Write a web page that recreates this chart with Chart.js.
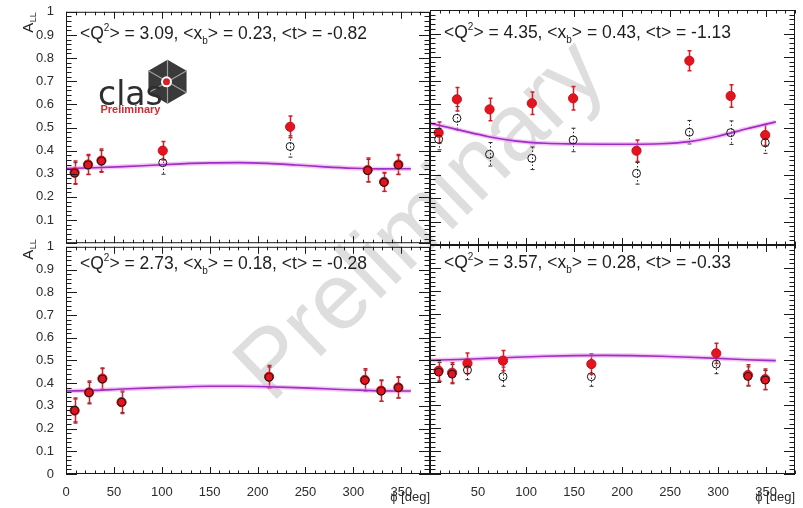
<!DOCTYPE html>
<html>
<head>
<meta charset="utf-8">
<script src="https://cdn.jsdelivr.net/npm/chart.js@4.4.1/dist/chart.umd.min.js"></script>
<style>
  body { margin: 0; background: #fff; }
  #page { position: relative; width: 803px; height: 508px; overflow: hidden; background: #fff; }
  #page canvas { position: absolute; }
  .watermark {
    position: absolute; left: 418px; top: 218px;
    transform: translate(-50%, -50%) rotate(-44deg);
    font: 94px "Liberation Sans", Arial, sans-serif;
    color: #dedede; white-space: nowrap; line-height: 1;
  }
</style>
</head>
<body>
<div id="page">
  <div class="watermark">Preliminary</div>
  <canvas id="tl" width="440" height="255" style="left:0;top:0"></canvas>
  <canvas id="tr" width="383" height="255" style="left:420px;top:0"></canvas>
  <canvas id="bl" width="440" height="273" style="left:0;top:235px"></canvas>
  <canvas id="br" width="383" height="273" style="left:420px;top:235px"></canvas>
</div>
<script>
const FONT = '"Liberation Sans", Arial, Helvetica, sans-serif';

// axis labels
const phiTicks = [0, 50, 100, 150, 200, 250, 300, 350];
const allTicks = [0, 0.1, 0.2, 0.3, 0.4, 0.5, 0.6, 0.7, 0.8, 0.9, 1];

// the fit curves are sampled on this phi grid
const fitPhi = [0, 30, 60, 90, 120, 150, 180, 210, 240, 270, 300, 330, 360];

// bin 1: <Q2> = 3.09, <xb> = 0.23, <t> = -0.82
const k1Kin = ["3.09", "0.23", "-0.82"];
const k1Phi = [9, 23, 37, 101, 234, 315, 332, 347];
const k1All = [0.305, 0.340, 0.357, 0.400, 0.503, 0.316, 0.265, 0.340];
const k1Err = [0.050, 0.043, 0.050, 0.040, 0.047, 0.052, 0.041, 0.043];
const k1Open = [0.303, 0.338, 0.355, 0.348, 0.418, 0.314, 0.263, 0.338];
const k1OpenErr = [0.045, 0.040, 0.045, 0.050, 0.046, 0.048, 0.040, 0.040];
const k1Fit = [0.323, 0.326, 0.331, 0.337, 0.343, 0.347, 0.348, 0.345, 0.338, 0.330, 0.324, 0.321, 0.322];

// bin 2: <Q2> = 4.35, <xb> = 0.43, <t> = -1.13
const k2Kin = ["4.35", "0.43", "-1.13"];
const k2Phi = [9, 28, 62, 106, 149, 215, 270, 313, 349];
const k2All = [0.478, 0.620, 0.577, 0.603, 0.624, 0.401, 0.784, 0.634, 0.468];
const k2Err = [0.045, 0.050, 0.048, 0.048, 0.050, 0.046, 0.043, 0.048, 0.045];
const k2Open = [0.450, 0.539, 0.386, 0.369, 0.447, 0.305, 0.480, 0.478, 0.435];
const k2OpenErr = [0.045, 0.050, 0.050, 0.048, 0.050, 0.046, 0.050, 0.050, 0.045];
const k2Fit = [0.518, 0.490, 0.462, 0.442, 0.433, 0.430, 0.429, 0.429, 0.431, 0.440, 0.463, 0.495, 0.524];

// bin 3: <Q2> = 2.73, <xb> = 0.18, <t> = -0.28
const k3Kin = ["2.73", "0.18", "-0.28"];
const k3Phi = [9, 24, 38, 58, 212, 312, 329, 347];
const k3All = [0.279, 0.359, 0.420, 0.316, 0.428, 0.414, 0.367, 0.381];
const k3Err = [0.055, 0.050, 0.047, 0.050, 0.050, 0.049, 0.047, 0.047];
const k3Open = [0.280, 0.358, 0.418, 0.316, 0.426, 0.412, 0.365, 0.380];
const k3OpenErr = [0.050, 0.045, 0.045, 0.045, 0.045, 0.045, 0.045, 0.045];
const k3Fit = [0.365, 0.368, 0.374, 0.379, 0.383, 0.386, 0.386, 0.384, 0.380, 0.375, 0.370, 0.366, 0.365];

// bin 4: <Q2> = 3.57, <xb> = 0.28, <t> = -0.33
const k4Kin = ["3.57", "0.28", "-0.33"];
const k4Phi = [9, 23, 39, 76, 168, 298, 331, 349];
const k4All = [0.451, 0.442, 0.483, 0.495, 0.480, 0.527, 0.432, 0.414];
const k4Err = [0.045, 0.044, 0.045, 0.044, 0.045, 0.044, 0.045, 0.045];
const k4Open = [0.445, 0.436, 0.454, 0.425, 0.425, 0.480, 0.426, 0.410];
const k4OpenErr = [0.042, 0.042, 0.042, 0.042, 0.042, 0.042, 0.042, 0.042];
const k4Fit = [0.497, 0.500, 0.505, 0.510, 0.514, 0.517, 0.518, 0.517, 0.514, 0.510, 0.505, 0.499, 0.495];

const toPoints = (xs, ys) => xs.map((x, i) => ({ x, y: ys[i] }));

function drawLogo(ctx, ox, oy) {
  const cx = ox + 101.5, cy = oy + 70, r = 22;
  const pts = [];
  for (let k = 0; k < 6; k++) {
    const ang = -Math.PI / 2 + k * Math.PI / 3;
    pts.push([cx + r * Math.cos(ang), cy + r * Math.sin(ang)]);
  }
  ctx.fillStyle = "#3a3a3a";
  ctx.beginPath();
  pts.forEach(([px, py], k) => (k ? ctx.lineTo(px, py) : ctx.moveTo(px, py)));
  ctx.closePath();
  ctx.fill();
  ctx.strokeStyle = "#a0a0a0";
  ctx.lineWidth = 1.2;
  ctx.beginPath();
  pts.forEach(([px, py]) => { ctx.moveTo(cx, cy); ctx.lineTo(px, py); });
  ctx.stroke();
  ctx.fillStyle = "#fff";
  ctx.beginPath(); ctx.arc(cx - 1, cy, 5.5, 0, Math.PI * 2); ctx.fill();
  ctx.fillStyle = "#d8202a";
  ctx.beginPath(); ctx.arc(cx - 1, cy, 3.5, 0, Math.PI * 2); ctx.fill();

  ctx.textAlign = "left";
  ctx.textBaseline = "alphabetic";
  ctx.fillStyle = "#2e2e2e";
  ctx.font = '33px "DejaVu Sans", sans-serif';
  ctx.fillText("clas", ox + 32, oy + 93);
  ctx.fillStyle = "#d42a32";
  ctx.font = "bold 11px " + FONT;
  ctx.fillText("Preliminary", ox + 34.5, oy + 101);
}

// ROOT-like frame: ticks inside on all four sides, kinematics title, A_LL label, error bars
const rootFrame = {
  id: "rootFrame",

  beforeDatasetsDraw(chart) {
    const { ctx, scales: { x, y } } = chart;
    chart.data.datasets.forEach((ds) => {
      if (!ds.errors) return;
      ctx.save();
      ctx.strokeStyle = ds.errorColor;
      ctx.lineWidth = ds.errorWidth;
      ds.data.forEach((p, i) => {
        const px = Math.round(x.getPixelForValue(p.x)) + 0.5;
        const hi = y.getPixelForValue(p.y + ds.errors[i]);
        const lo = y.getPixelForValue(p.y - ds.errors[i]);
        ctx.setLineDash(ds.errorDash || []);
        ctx.beginPath();
        ctx.moveTo(px, hi);
        ctx.lineTo(px, lo);
        ctx.stroke();
        ctx.setLineDash([]);
        ctx.beginPath();
        ctx.moveTo(px - 2, hi); ctx.lineTo(px + 2, hi);
        ctx.moveTo(px - 2, lo); ctx.lineTo(px + 2, lo);
        ctx.stroke();
      });
      ctx.restore();
    });
  },

  afterDraw(chart, args, opts) {
    const { ctx, chartArea: a, scales: { x, y } } = chart;
    ctx.save();
    ctx.strokeStyle = "#1a1a1a";
    ctx.lineWidth = 1;
    ctx.strokeRect(a.left + 0.5, a.top + 0.5, a.right - a.left - 1, a.bottom - a.top - 1);

    ctx.beginPath();
    for (let v = 0; v <= 380; v += 10) {
      const px = Math.round(x.getPixelForValue(v)) + 0.5;
      const len = v % 50 === 0 ? 7 : 3.5;
      ctx.moveTo(px, a.bottom); ctx.lineTo(px, a.bottom - len);
      ctx.moveTo(px, a.top); ctx.lineTo(px, a.top + len);
    }
    for (let k = 0; k <= 50; k++) {
      const py = Math.round(y.getPixelForValue(k / 50)) + 0.5;
      const len = k % 5 === 0 ? 11 : 5.5;
      ctx.moveTo(a.left, py); ctx.lineTo(a.left + len, py);
      ctx.moveTo(a.right, py); ctx.lineTo(a.right - len, py);
    }
    ctx.stroke();

    // <Q^2> = .., <x_b> = .., <t> = ..
    const [q2, xb, t] = opts.kin;
    const pieces = [
      ["<Q", 17.5, 0], ["2", 10, -8], ["> = " + q2 + ", <x", 17.5, 0],
      ["b", 10, 5], ["> = " + xb + ", <t> = " + t, 17.5, 0]
    ];
    let tx = a.left + 14;
    const base = a.top + opts.titleDy;
    ctx.fillStyle = "#1e1e1e";
    ctx.textAlign = "left";
    ctx.textBaseline = "alphabetic";
    for (const [s, size, dy] of pieces) {
      ctx.font = size + "px " + FONT;
      ctx.fillText(s, tx, base + dy);
      tx += ctx.measureText(s).width;
    }

    if (opts.yLabel) {
      ctx.save();
      ctx.translate(33, a.top + opts.yLabelDy);
      ctx.rotate(-Math.PI / 2);
      ctx.font = "15px " + FONT;
      ctx.fillText("A", 0, 0);
      const w = ctx.measureText("A").width;
      ctx.font = "9px " + FONT;
      ctx.fillText("LL", w + 0.5, 3);
      ctx.restore();
    }

    if (opts.logo) drawLogo(ctx, a.left, a.top);
    ctx.restore();
  }
};

const Panels = {
  tickFont: { family: FONT, size: 13 },

  _scatter(label, xs, ys, errs, style) {
    return Object.assign({ label, data: toPoints(xs, ys), errors: errs, showLine: false }, style);
  },

  _fit(xs, ys, color, width, order) {
    return {
      data: toPoints(xs, ys),
      showLine: true,
      pointRadius: 0,
      borderColor: color,
      borderWidth: width,
      cubicInterpolationMode: "monotone",
      order
    };
  },

  /**
   * @param {string} canvasId
   * @param {object} bin  arrays of one kinematic bin
   * @param {object} look which axes/labels this panel shows and where
   * @returns {Chart|null}
   */
  create(canvasId, bin, look) {
    const canvas = document.getElementById(canvasId);
    if (!canvas) return null;

    const datasets = [
      this._scatter("open", bin.phi, bin.open, bin.openErr, {
        pointRadius: 4, pointBorderWidth: 1, pointBorderColor: "#151515",
        pointBackgroundColor: "rgba(0,0,0,0)",
        errorColor: "#2a2a2a", errorWidth: 1, errorDash: [1.5, 2], order: 0
      }),
      this._scatter("all", bin.phi, bin.all, bin.err, {
        pointRadius: 4.6, pointBorderWidth: 1, pointBorderColor: "#c8101c",
        pointBackgroundColor: "#e3141e",
        errorColor: "#cf1f2a", errorWidth: 1.5, order: 1
      }),
      this._fit(fitPhi, bin.fit, "#9c2fc4", 1.6, 2),
      this._fit(fitPhi, bin.fit, "rgba(236,150,236,0.55)", 4.5, 3)
    ];

    return new Chart(canvas, {
      type: "scatter",
      data: { datasets },
      plugins: [rootFrame],
      options: {
        responsive: false,
        animation: false,
        events: [],
        layout: { padding: look.padding },
        plugins: {
          legend: { display: false },
          tooltip: { enabled: false },
          rootFrame: { kin: bin.kin, titleDy: look.titleDy, yLabel: look.yAxis, yLabelDy: look.yLabelDy, logo: look.logo }
        },
        scales: {
          x: {
            type: "linear", min: 0, max: 380,
            display: look.xAxis,
            grid: { display: false },
            border: { display: false },
            afterBuildTicks: (s) => { s.ticks = phiTicks.map((value) => ({ value })); },
            afterFit: (s) => { if (look.xAxis) s.height = 34; },
            ticks: {
              font: this.tickFont, color: "#2b2b2b", padding: 3, maxRotation: 0, autoSkip: false,
              callback: (v) => (v === 0 && !look.xZero ? "" : String(v))
            },
            title: {
              display: true, text: "ϕ [deg]", align: "end",
              font: this.tickFont, color: "#2b2b2b", padding: { top: 0, bottom: 3 }
            }
          },
          y: {
            type: "linear", min: 0, max: 1,
            display: look.yAxis,
            grid: { display: false },
            border: { display: false },
            afterBuildTicks: (s) => { s.ticks = allTicks.map((value) => ({ value })); },
            afterFit: (s) => { if (look.yAxis) s.width = 66; },
            ticks: {
              font: this.tickFont, color: "#2b2b2b", padding: 4,
              callback: (v) => (v === 0 && !look.yZero ? "" : String(v))
            }
          }
        }
      }
    });
  }
};

const bins = {
  tl: { kin: k1Kin, phi: k1Phi, all: k1All, err: k1Err, open: k1Open, openErr: k1OpenErr, fit: k1Fit },
  tr: { kin: k2Kin, phi: k2Phi, all: k2All, err: k2Err, open: k2Open, openErr: k2OpenErr, fit: k2Fit },
  bl: { kin: k3Kin, phi: k3Phi, all: k3All, err: k3Err, open: k3Open, openErr: k3OpenErr, fit: k3Fit },
  br: { kin: k4Kin, phi: k4Phi, all: k4All, err: k4Err, open: k4Open, openErr: k4OpenErr, fit: k4Fit }
};

Panels.create("tl", bins.tl, {
  padding: { left: 0, top: 10, right: 10, bottom: 10 },
  xAxis: false, yAxis: true, yZero: false, titleDy: 27.5, yLabelDy: 21, logo: true
});
Panels.create("tr", bins.tr, {
  padding: { left: 10, top: 10, right: 8, bottom: 10 },
  xAxis: false, yAxis: false, titleDy: 27.5
});
Panels.create("bl", bins.bl, {
  padding: { left: 0, top: 10, right: 10, bottom: 0 },
  xAxis: true, xZero: true, yAxis: true, yZero: true, titleDy: 22.5, yLabelDy: 13
});
Panels.create("br", bins.br, {
  padding: { left: 10, top: 10, right: 8, bottom: 0 },
  xAxis: true, xZero: false, yAxis: false, titleDy: 22.5
});
</script>
</body>
</html>
